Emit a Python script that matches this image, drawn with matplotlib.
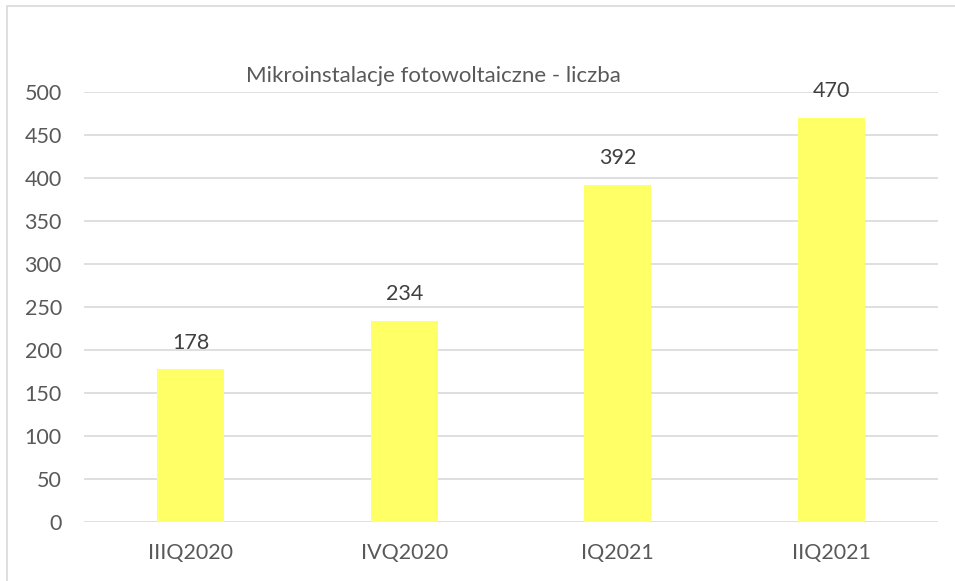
import matplotlib
matplotlib.use("Agg")
from matplotlib import pyplot as plt
from matplotlib.patches import Rectangle

categories = ["IIIQ2020", "IVQ2020", "IQ2021", "IIQ2021"]
values = [178, 234, 392, 470]
yticks = [0, 50, 100, 150, 200, 250, 300, 350, 400, 450, 500]
title = "Mikroinstalacje fotowoltaiczne - liczba"

plt.rcParams['font.family'] = ['Lato', 'DejaVu Sans']

W, H = 955, 581
fig = plt.figure(figsize=(W / 100, H / 100), dpi=100)

# chart frame (cropped at right and bottom)
fig.patches.append(Rectangle((7 / W, -0.01), 1.0, 1 - 6 / H + 0.01,
                             transform=fig.transFigure, fill=False,
                             edgecolor="#D9D9D9", linewidth=1.2))

left, right = 84 / W, 938 / W
bottom, top = 1 - 522 / H, 1 - 92 / H
ax = fig.add_axes([left, bottom, right - left, top - bottom])

x = range(len(categories))
ax.bar(x, values, width=0.314, color="#FFFF66", zorder=2)
for xi, v in zip(x, values):
    ax.annotate(str(v), (xi, v), xytext=(0, 19), textcoords="offset points",
                ha="center", va="center", fontsize=15.5, color="#404040")

ax.set_xlim(-0.5, len(categories) - 0.5)
ax.set_ylim(0, 500)
ax.set_yticks(yticks)
ax.set_xticks(list(x))
ax.set_xticklabels(categories)
ax.grid(axis="y", color="#D9D9D9", linewidth=1.2, zorder=0)
ax.set_axisbelow(True)
for s in ax.spines.values():
    s.set_visible(False)
ax.tick_params(axis="both", length=0, labelsize=15.5, colors="#595959")
ax.tick_params(axis="y", pad=16)
ax.tick_params(axis="x", pad=15)

fig.text(433 / W, 1 - 76 / H, title, ha="center", va="center",
         fontsize=16, color="#595959")

plt.savefig("out.png", dpi=100)
plt.close()
